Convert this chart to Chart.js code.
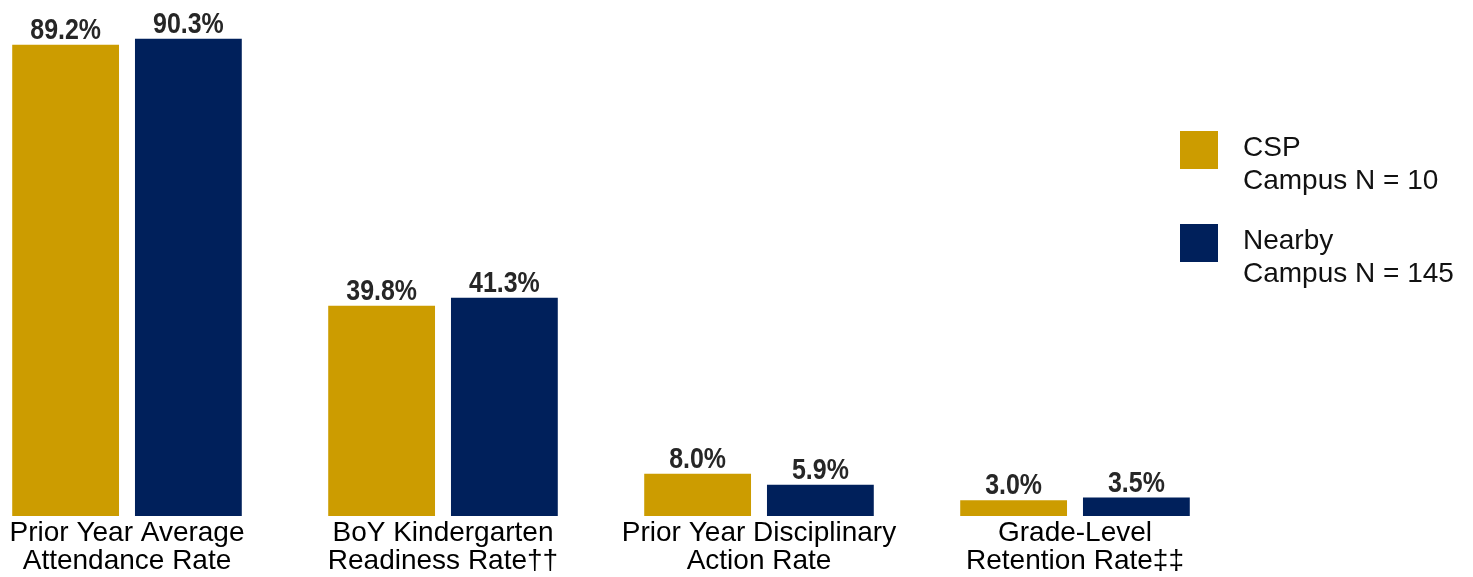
<!DOCTYPE html>
<html lang="en">
<head>
    <meta charset="UTF-8">
    <title>Campus Comparison</title>
    <script src="https://cdn.jsdelivr.net/npm/chart.js"></script>
    <style>
        body {
            margin: 0;
            width: 1473px;
            height: 577px;
            overflow: hidden;
            background: #fff;
            position: relative;
            font-family: "Liberation Sans", Arial, sans-serif;
        }
        .chart-box {
            position: absolute;
            left: -31px;
            top: 0;
            width: 1264px;
            height: 577px;
        }
        #legend {
            position: absolute;
            left: 1180px;
            top: 130px;
        }
        .legend-item {
            position: relative;
            height: 93px;
        }
        .legend-item .swatch {
            position: absolute;
            left: 0;
            top: 1px;
            width: 38px;
            height: 38px;
        }
        .legend-item .text {
            position: absolute;
            left: 63px;
            top: 0;
            font-size: 28px;
            line-height: 33px;
            color: #111;
            white-space: nowrap;
        }
    </style>
</head>
<body>
    <div class="chart-box"><canvas id="chart"></canvas></div>
    <div id="legend"></div>

    <script>
        const categories = [
            ['Prior Year Average', 'Attendance Rate'],
            ['BoY Kindergarten', 'Readiness Rate\u2020\u2020'],
            ['Prior Year Disciplinary', 'Action Rate'],
            ['Grade-Level', 'Retention Rate\u2021\u2021']
        ];
        const seriesNames = [['CSP', 'Campus N = 10'], ['Nearby', 'Campus N = 145']];
        const cspValues = [89.2, 39.8, 8.0, 3.0];
        const nearbyValues = [90.3, 41.3, 5.9, 3.5];
        const colors = ['#CC9C00', '#00205B'];

        // value labels above each bar (squeezed to look like a narrow bold face)
        const barLabels = {
            id: 'barLabels',
            afterDatasetsDraw(chart) {
                const ctx = chart.ctx;
                const squeeze = 0.86;
                ctx.save();
                ctx.font = 'bold 29px "Liberation Sans", Arial, sans-serif';
                ctx.fillStyle = '#262626';
                ctx.textAlign = 'center';
                ctx.textBaseline = 'alphabetic';
                chart.data.datasets.forEach((ds, i) => {
                    chart.getDatasetMeta(i).data.forEach((bar, j) => {
                        ctx.save();
                        ctx.translate(bar.x, bar.y - 6);
                        ctx.scale(squeeze, 1);
                        ctx.fillText(ds.data[j].toFixed(1) + '%', 0, 0);
                        ctx.restore();
                    });
                });
                ctx.restore();
            }
        };

        new Chart(document.getElementById('chart'), {
            type: 'bar',
            data: {
                labels: categories,
                datasets: [
                    { label: seriesNames[0].join(' '), data: cspValues, backgroundColor: colors[0] },
                    { label: seriesNames[1].join(' '), data: nearbyValues, backgroundColor: colors[1] }
                ]
            },
            options: {
                responsive: true,
                maintainAspectRatio: false,
                animation: false,
                categoryPercentage: 0.777,
                barPercentage: 0.87,
                layout: { padding: { top: 14, left: 0, right: 0, bottom: 0 } },
                plugins: {
                    legend: { display: false },
                    tooltip: { enabled: false }
                },
                scales: {
                    x: {
                        grid: { display: false, drawTicks: false },
                        border: { display: false },
                        ticks: {
                            color: '#000',
                            padding: 3,
                            maxRotation: 0,
                            autoSkip: false,
                            font: { family: '"Liberation Sans", Arial, sans-serif', size: 28, lineHeight: 1.0 }
                        },
                        afterFit(scale) { scale.height = 61; }
                    },
                    y: {
                        display: false,
                        min: 0,
                        max: 95
                    }
                }
            },
            plugins: [barLabels]
        });

        const legend = document.getElementById('legend');
        seriesNames.forEach((name, i) => {
            const item = document.createElement('div');
            item.className = 'legend-item';
            const sw = document.createElement('div');
            sw.className = 'swatch';
            sw.style.background = colors[i];
            const txt = document.createElement('div');
            txt.className = 'text';
            txt.innerHTML = name.join('<br>');
            item.appendChild(sw);
            item.appendChild(txt);
            legend.appendChild(item);
        });
    </script>
</body>
</html>
